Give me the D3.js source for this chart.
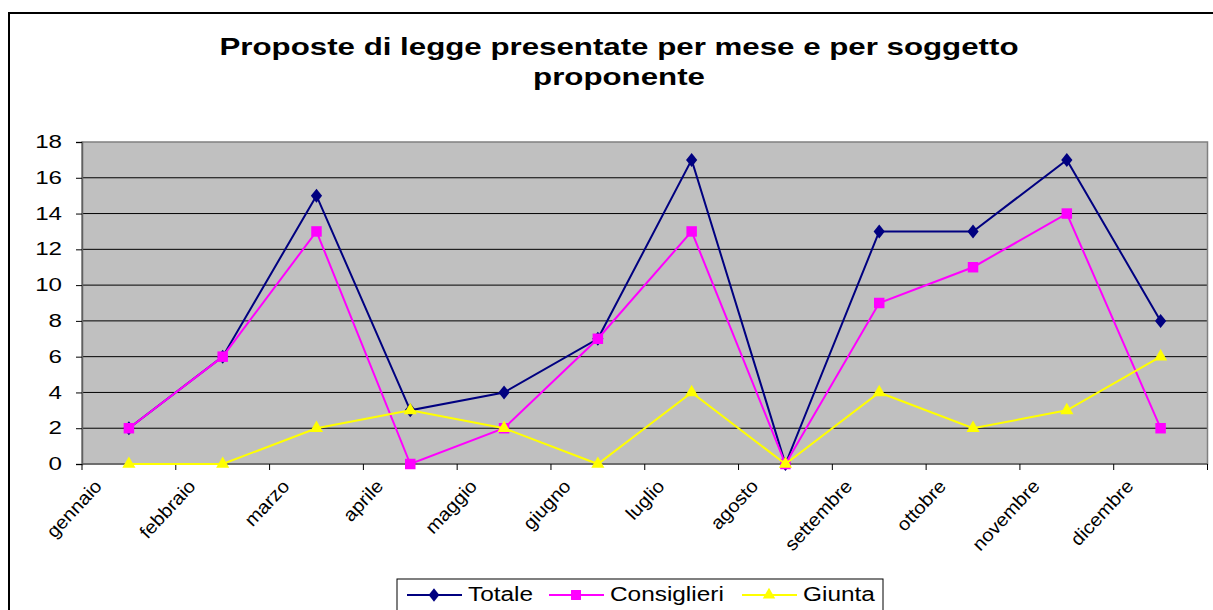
<!DOCTYPE html>
<html>
<head>
<meta charset="utf-8">
<script src="https://cdn.jsdelivr.net/npm/d3@7"></script>
<style>
  body { margin: 0; background: #fff; }
  svg { display: block; font-family: "Liberation Sans", Arial, sans-serif; }
</style>
</head>
<body>
<svg width="1213" height="610"></svg>
<script>
let months = ['gennaio', 'febbraio', 'marzo', 'aprile', 'maggio', 'giugno',
    'luglio', 'agosto', 'settembre', 'ottobre', 'novembre', 'dicembre'];
let totale = [2, 6, 15, 3, 4, 7, 17, 0, 13, 13, 17, 8];
let consiglieri = [2, 6, 13, 0, 2, 7, 13, 0, 9, 11, 14, 2];
let giunta = [0, 0, 2, 3, 2, 0, 4, 0, 4, 2, 3, 6];
let yTicks = [0, 2, 4, 6, 8, 10, 12, 14, 16, 18];
let titleLines = ['Proposte di legge presentate per mese e per soggetto', 'proponente'];

let series = [
    {name: 'Totale', values: totale, color: '#000080', symbol: d3.symbolDiamond, size: 70},
    {name: 'Consiglieri', values: consiglieri, color: '#FF00FF', symbol: d3.symbolSquare, size: 110},
    {name: 'Giunta', values: giunta, color: '#FFFF00', symbol: d3.symbolTriangle, size: 75}
];

let svg = d3.select('svg');
let plotLeft = 82, plotRight = 1207.5, plotTop = 142, plotBottom = 464;

// stretch text along its baseline (the source renders fonts wide)
function stretch(sel, k) {
    sel.each(function () {
        let len = this.getComputedTextLength();
        d3.select(this).attr('textLength', len * k).attr('lengthAdjust', 'spacingAndGlyphs');
    });
}

// outer chart border
svg.append('rect')
    .attr('x', 9).attr('y', 13).attr('width', 1230).attr('height', 640)
    .attr('fill', '#fff').attr('stroke', '#000').attr('stroke-width', 2);

// title
let title = svg.append('g').selectAll('text')
    .data(titleLines)
    .enter().append('text')
    .attr('x', 619)
    .attr('y', (d, i) => 55 + i * 30)
    .attr('text-anchor', 'middle')
    .attr('font-size', 23.5)
    .attr('font-weight', 'bold')
    .text(d => d);
stretch(title, 1.33);

let x = d3.scaleBand().domain(months).range([plotLeft, plotRight]).padding(0);
let y = d3.scaleLinear().domain([0, 18]).range([plotBottom, plotTop]);
let cx = m => x(m) + x.bandwidth() / 2;

// plot area
svg.append('rect')
    .attr('x', plotLeft).attr('y', plotTop)
    .attr('width', plotRight - plotLeft).attr('height', plotBottom - plotTop)
    .attr('fill', '#C0C0C0');

svg.append('g').selectAll('line')
    .data(yTicks.filter(t => t > 0 && t < 18))
    .enter().append('line')
    .attr('x1', plotLeft).attr('x2', plotRight)
    .attr('y1', d => y(d)).attr('y2', d => y(d))
    .attr('stroke', '#000').attr('stroke-width', 1);

svg.append('rect')
    .attr('x', plotLeft).attr('y', plotTop)
    .attr('width', plotRight - plotLeft).attr('height', plotBottom - plotTop)
    .attr('fill', 'none').attr('stroke', '#808080').attr('stroke-width', 1.5);

// y axis
let yAxis = svg.append('g')
    .attr('transform', `translate(${plotLeft},0)`)
    .call(d3.axisLeft(y).tickValues(yTicks).tickSize(6).tickPadding(14));
yAxis.select('.domain').attr('stroke', '#606060').attr('stroke-width', 1.5);
yAxis.selectAll('.tick line').attr('stroke', '#000');
yAxis.selectAll('.tick text')
    .attr('font-size', 17.5)
    .attr('font-family', '"Liberation Sans", Arial, sans-serif')
    .attr('fill', '#000');
stretch(yAxis.selectAll('.tick text'), 1.38);

// x axis: ticks at band boundaries
let bounds = months.map(m => x(m)).concat([plotRight]);
svg.append('line')
    .attr('x1', plotLeft).attr('x2', plotRight).attr('y1', plotBottom).attr('y2', plotBottom)
    .attr('stroke', '#606060').attr('stroke-width', 1.5);
svg.append('g').selectAll('line')
    .data(bounds)
    .enter().append('line')
    .attr('x1', d => d).attr('x2', d => d)
    .attr('y1', plotBottom).attr('y2', plotBottom + 6)
    .attr('stroke', '#000');

let xLabels = svg.append('g').selectAll('text')
    .data(months)
    .enter().append('text')
    .attr('transform', d => `translate(${cx(d) - 26},${plotBottom + 23}) rotate(-47)`)
    .attr('text-anchor', 'end')
    .attr('font-size', 18.5)
    .text(d => d);
stretch(xLabels, 1.08);

// series
let line = d3.line().x((d, i) => cx(months[i])).y(d => y(d));
series.forEach(s => {
    let g = svg.append('g');
    g.append('path')
        .datum(s.values)
        .attr('d', line)
        .attr('fill', 'none')
        .attr('stroke', s.color)
        .attr('stroke-width', 2);
    g.selectAll('path.mark')
        .data(s.values)
        .enter().append('path')
        .attr('class', 'mark')
        .attr('d', d3.symbol().type(s.symbol).size(s.size))
        .attr('transform', (d, i) => `translate(${cx(months[i])},${y(d)})` +
            (s.symbol === d3.symbolDiamond ? ' scale(1.25,0.9)' : ''))
        .attr('fill', s.color);
});

// legend
let legend = svg.append('g');
legend.append('rect')
    .attr('x', 397).attr('y', 579).attr('width', 486).attr('height', 40)
    .attr('fill', '#fff').attr('stroke', '#000').attr('stroke-width', 1);
let legendX = [407, 549, 742];
series.forEach((s, i) => {
    let lx = legendX[i];
    legend.append('line')
        .attr('x1', lx).attr('x2', lx + 55).attr('y1', 595).attr('y2', 595)
        .attr('stroke', s.color).attr('stroke-width', 2);
    legend.append('path')
        .attr('d', d3.symbol().type(s.symbol).size(s.size * 0.9))
        .attr('transform', `translate(${lx + 27},595)` +
            (s.symbol === d3.symbolDiamond ? ' scale(1.25,0.9)' : ''))
        .attr('fill', s.color);
    let t = legend.append('text')
        .attr('x', lx + 61).attr('y', 601)
        .attr('font-size', 19.5)
        .text(s.name);
    stretch(t, 1.25);
});
</script>
</body>
</html>
